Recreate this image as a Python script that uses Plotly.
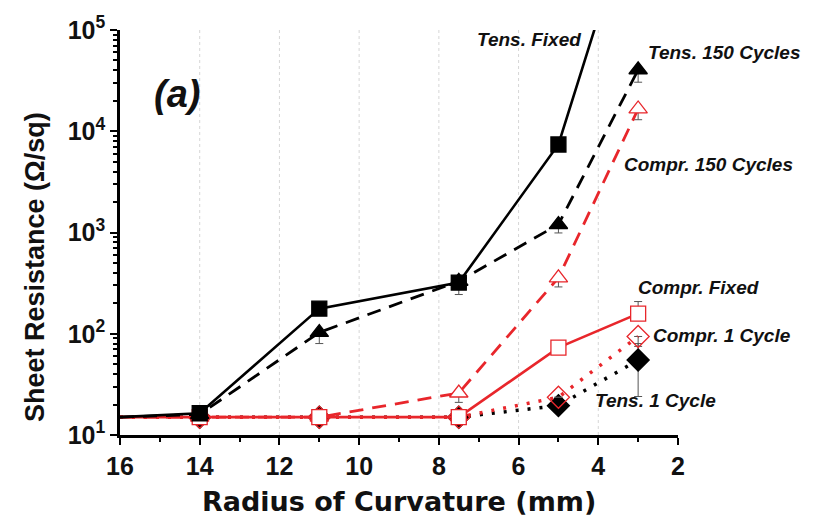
import math
import plotly.graph_objects as go

# ---------------- data ----------------
radius = [16, 14, 11, 7.5, 5, 3]

tens_fixed = [15, 16.4, 177, 320, 7400, 2.4e6]
tens_150 = [15, 16, 103, 330, 1200, 40500]
compr_150 = [15, 15, 15, 26, 357, 16600]
compr_fixed = [15, 15, 15, 15, 73, 158]
compr_1 = [15, 15, 15, 15, 23.6, 94]
tens_1 = [15, 15, 15, 15, 19.5, 55]

# error bars (plus / minus)
tens_fixed_ep = [0, 0, 0, 0, 0, 0]
tens_fixed_em = [0, 1, 14, 76, 0, 0]
tens_150_ep = [0, 0, 0, 0, 0, 0]
tens_150_em = [0, 1, 23, 20, 210, 10000]
compr_150_ep = [0, 0, 0, 0, 0, 0]
compr_150_em = [0, 1, 1, 5, 67, 3600]
compr_fixed_ep = [0, 0, 0, 0, 0, 50]
compr_fixed_em = [0, 1, 1, 1, 0, 0]
compr_1_ep = [0, 0, 0, 0, 0, 0]
compr_1_em = [0, 1, 1, 1, 0, 19]
tens_1_ep = [0, 0, 0, 0, 0, 25]
tens_1_em = [0, 2, 2, 2, 0, 31]

x_ticks = [16, 14, 12, 10, 8, 6, 4, 2]
x_minor = [15, 13, 11, 9, 7, 5, 3]
y_ticks = [1e1, 1e2, 1e3, 1e4, 1e5]
y_ticktext = ["10<sup>1</sup>", "10<sup>2</sup>", "10<sup>3</sup>", "10<sup>4</sup>", "10<sup>5</sup>"]
y_minor = [m * d for d in [1e1, 1e2, 1e3, 1e4] for m in range(2, 10)]

FONT = "Liberation Sans, Arial, sans-serif"
WIDE = "DejaVu Sans, Liberation Sans, sans-serif"
RED = "#e8262b"
BLACK = "#000000"
TXT = "#111111"

fig = go.Figure()


def add(y, ep, em, name, color, dash, symbol, fill, width=2.6, msize=15):
    sizes = [0 if r == 16 else msize for r in radius]
    fig.add_trace(go.Scatter(
        x=radius, y=y, name=name, mode="lines+markers",
        line=dict(color=color, width=width, dash=dash),
        marker=dict(symbol=symbol, size=sizes, color=fill, opacity=1,
                    line=dict(color=color, width=1.3)),
        error_y=dict(type="data", symmetric=False, array=ep, arrayminus=em,
                     color="#555555", thickness=1, width=4),
        showlegend=False,
    ))


add(tens_1, tens_1_ep, tens_1_em, "Tens. 1 Cycle", BLACK, "3px,9px", "diamond", BLACK, 3.5, 17)
add(compr_1, compr_1_ep, compr_1_em, "Compr. 1 Cycle", RED, "3px,9px", "diamond-open", RED, 3.5, 17)
add(compr_150, compr_150_ep, compr_150_em, "Compr. 150 Cycles", RED, "14px,9px", "triangle-up", "white", 2.8, 16)
add(compr_fixed, compr_fixed_ep, compr_fixed_em, "Compr. Fixed", RED, "solid", "square", "white")
add(tens_150, tens_150_ep, tens_150_em, "Tens. 150 Cycles", BLACK, "14px,9px", "triangle-up", BLACK, 2.8, 16)
add(tens_fixed, tens_fixed_ep, tens_fixed_em, "Tens. Fixed", BLACK, "solid", "square", BLACK)

# grid lines (dotted) at interior major ticks
shapes = []
for xv in x_ticks[1:-1]:
    shapes.append(dict(type="line", xref="x", yref="paper", x0=xv, x1=xv, y0=0, y1=1,
                       line=dict(color="#d6d6d6", width=1, dash="dot"), layer="below"))
for yv in y_ticks[1:-1]:
    shapes.append(dict(type="line", xref="paper", yref="y", x0=0, x1=1,
                       y0=math.log10(yv), y1=math.log10(yv),
                       line=dict(color="#d6d6d6", width=1, dash="dot"), layer="below"))

ann_font = dict(family=FONT, size=19, color=TXT)
annotations = [
    dict(x=15.2, y=4.37, text="<b><i>(a)</i></b>", xanchor="left", yanchor="middle",
         font=dict(family=FONT, size=38, color=TXT)),
    dict(x=4.375, y=4.91, text="<b><i>Tens. Fixed</i></b>", xanchor="right", yanchor="middle", font=ann_font),
    dict(x=2.8, y=4.78, text="<b><i>Tens. 150 Cycles</i></b>", xanchor="left", yanchor="middle", font=ann_font),
    dict(x=3.4, y=3.67, text="<b><i>Compr. 150 Cycles</i></b>", xanchor="left", yanchor="middle", font=ann_font),
    dict(x=3.05, y=2.455, text="<b><i>Compr. Fixed</i></b>", xanchor="left", yanchor="middle", font=ann_font),
    dict(x=2.675, y=1.983, text="<b><i>Compr. 1 Cycle</i></b>", xanchor="left", yanchor="middle", font=ann_font),
    dict(x=4.125, y=1.344, text="<b><i>Tens. 1 Cycle</i></b>", xanchor="left", yanchor="middle", font=ann_font),
]
for a in annotations:
    a.update(xref="x", yref="y", showarrow=False)

# axis titles as paper annotations
annotations.append(dict(xref="paper", yref="paper", x=0.5, y=-0.165, showarrow=False,
                        text="<b>Radius of Curvature (mm)</b>", xanchor="center", yanchor="middle",
                        font=dict(family=WIDE, size=27, color=TXT)))
annotations.append(dict(xref="paper", yref="paper", x=-0.152, y=0.415, showarrow=False,
                        text="<b>Sheet Resistance (Ω/sq)</b>", textangle=-90,
                        xanchor="center", yanchor="middle",
                        font=dict(family=FONT, size=27, color=TXT)))

fig.update_layout(
    width=813, height=518,
    margin=dict(l=120, r=135, t=28, b=83),
    paper_bgcolor="white", plot_bgcolor="white",
    font=dict(family=FONT, color=TXT),
    shapes=shapes,
    annotations=annotations,
    xaxis=dict(
        range=[16, 2], tickmode="array", tickvals=x_ticks,
        ticktext=["<b>%d</b>" % v for v in x_ticks],
        tickfont=dict(family=FONT, size=25, color=TXT),
        ticks="outside", ticklen=7, tickwidth=2, tickcolor="black",
        showline=True, linecolor="black", linewidth=2.5,
        showgrid=False, zeroline=False,
        minor=dict(tickvals=x_minor, ticks="outside", ticklen=4, tickwidth=2, tickcolor="black"),
    ),
    yaxis=dict(
        type="log", range=[1, 5], tickmode="array", tickvals=y_ticks,
        ticktext=["<b>%s</b>" % t for t in y_ticktext],
        tickfont=dict(family=FONT, size=25, color=TXT),
        ticks="outside", ticklen=7, tickwidth=2, tickcolor="black",
        showline=True, linecolor="black", linewidth=2.5,
        showgrid=False, zeroline=False,
        minor=dict(tickvals=y_minor, ticks="outside", ticklen=4, tickwidth=1.5, tickcolor="black"),
    ),
)

fig.write_html("out.html")
